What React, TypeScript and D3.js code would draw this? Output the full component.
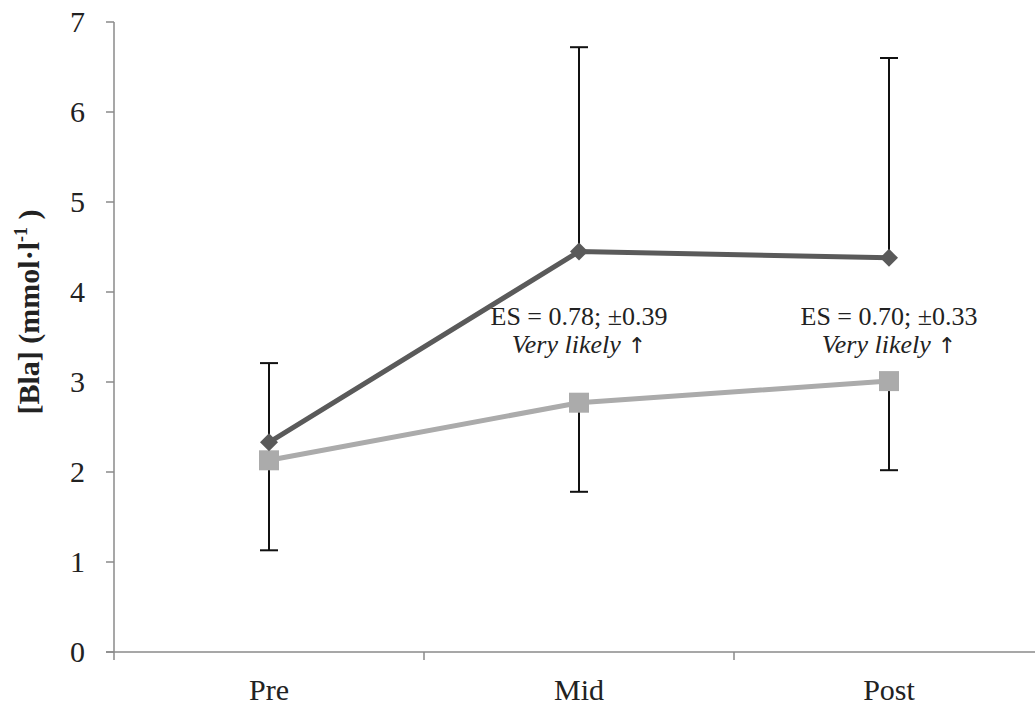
import React from "react";
import * as d3 from "d3";

const categories = ["Pre", "Mid", "Post"];
const darkValues = [2.33, 4.45, 4.38];
const darkUpper = [3.21, 6.72, 6.6];
const lightValues = [2.13, 2.77, 3.01];
const lightLower = [1.13, 1.78, 2.02];
const yTicks = [0, 1, 2, 3, 4, 5, 6, 7];
const annotations = [
  { cat: "Mid", line1: "ES = 0.78; ±0.39", line2: "Very likely" },
  { cat: "Post", line1: "ES = 0.70; ±0.33", line2: "Very likely" },
];

const W = 1035;
const H = 707;

export default function App() {
  const x0 = 114;
  const x = d3.scaleBand<string>().domain(categories).range([x0, 1044]);
  const y = d3.scaleLinear().domain([0, 7]).range([652, 22]);
  const cx = (c: string) => (x(c) as number) + x.bandwidth() / 2;
  const line = d3
    .line<number>()
    .x((_, i) => cx(categories[i]))
    .y((d) => y(d));
  const serif = "'Liberation Serif', 'Times New Roman', serif";
  const cap = 9;
  const axisColor = "#8a8a8a";
  return (
    <svg width={W} height={H} style={{ position: "absolute", left: 0, top: 0 }} fontFamily={serif}>
      <rect width={W} height={H} fill="#fff" />
      {/* axes */}
      <line x1={x0} x2={x0} y1={y(7)} y2={y(0)} stroke={axisColor} strokeWidth={1.5} />
      <line x1={x0 - 8} x2={W} y1={y(0)} y2={y(0)} stroke={axisColor} strokeWidth={1.5} />
      {yTicks.map((t) => (
        <g key={t}>
          <line x1={x0 - 8} x2={x0} y1={y(t)} y2={y(t)} stroke={axisColor} strokeWidth={1.5} />
          <text x={85} y={y(t) + 10} textAnchor="end" fontSize={30} fill="#222">
            {t}
          </text>
        </g>
      ))}
      {categories.map((c) => (
        <line key={"xt" + c} x1={x(c) as number} x2={x(c) as number} y1={y(0)} y2={y(0) + 8} stroke={axisColor} strokeWidth={1.5} />
      ))}
      {categories.map((c) => (
        <text key={"xl" + c} x={cx(c)} y={700} textAnchor="middle" fontSize={30} fill="#222">
          {c}
        </text>
      ))}
      <text
        transform={`translate(39, 312) rotate(-90)`}
        textAnchor="middle"
        fontSize={30}
        fontWeight="bold"
        fill="#222"
      >
        [Bla] (mmol·l<tspan dy={-12} fontSize={18}>-1</tspan>
        <tspan dy={12}> )</tspan>
      </text>
      {/* error bars */}
      {categories.map((c, i) => (
        <g key={"eb" + c} stroke="#111" strokeWidth={2}>
          <line x1={cx(c)} x2={cx(c)} y1={y(darkValues[i])} y2={y(darkUpper[i])} />
          <line x1={cx(c) - cap} x2={cx(c) + cap} y1={y(darkUpper[i])} y2={y(darkUpper[i])} />
          <line x1={cx(c)} x2={cx(c)} y1={y(lightValues[i])} y2={y(lightLower[i])} />
          <line x1={cx(c) - cap} x2={cx(c) + cap} y1={y(lightLower[i])} y2={y(lightLower[i])} />
        </g>
      ))}
      {/* lines */}
      <path d={line(lightValues) as string} fill="none" stroke="#ababab" strokeWidth={5} />
      <path d={line(darkValues) as string} fill="none" stroke="#5a5a5a" strokeWidth={5} />
      {lightValues.map((v, i) => (
        <rect key={"sq" + i} x={cx(categories[i]) - 10} y={y(v) - 10} width={20} height={20} fill="#ababab" />
      ))}
      {darkValues.map((v, i) => (
        <path
          key={"dm" + i}
          d={`M${cx(categories[i])},${y(v) - 9} L${cx(categories[i]) + 9},${y(v)} L${cx(categories[i])},${y(v) + 9} L${cx(categories[i]) - 9},${y(v)} Z`}
          fill="#5a5a5a"
        />
      ))}
      {annotations.map((a) => (
        <g key={"an" + a.cat}>
          <text x={cx(a.cat)} y={325} textAnchor="middle" fontSize={26} fill="#222">
            {a.line1}
          </text>
          <text x={cx(a.cat)} y={353} textAnchor="middle" fontSize={26} fontStyle="italic" fill="#222">
            {a.line2}
            <tspan fontFamily="'DejaVu Sans', sans-serif" fontStyle="normal" fontSize={22} fill="#222">
              {" ↑"}
            </tspan>
          </text>
        </g>
      ))}
    </svg>
  );
}
